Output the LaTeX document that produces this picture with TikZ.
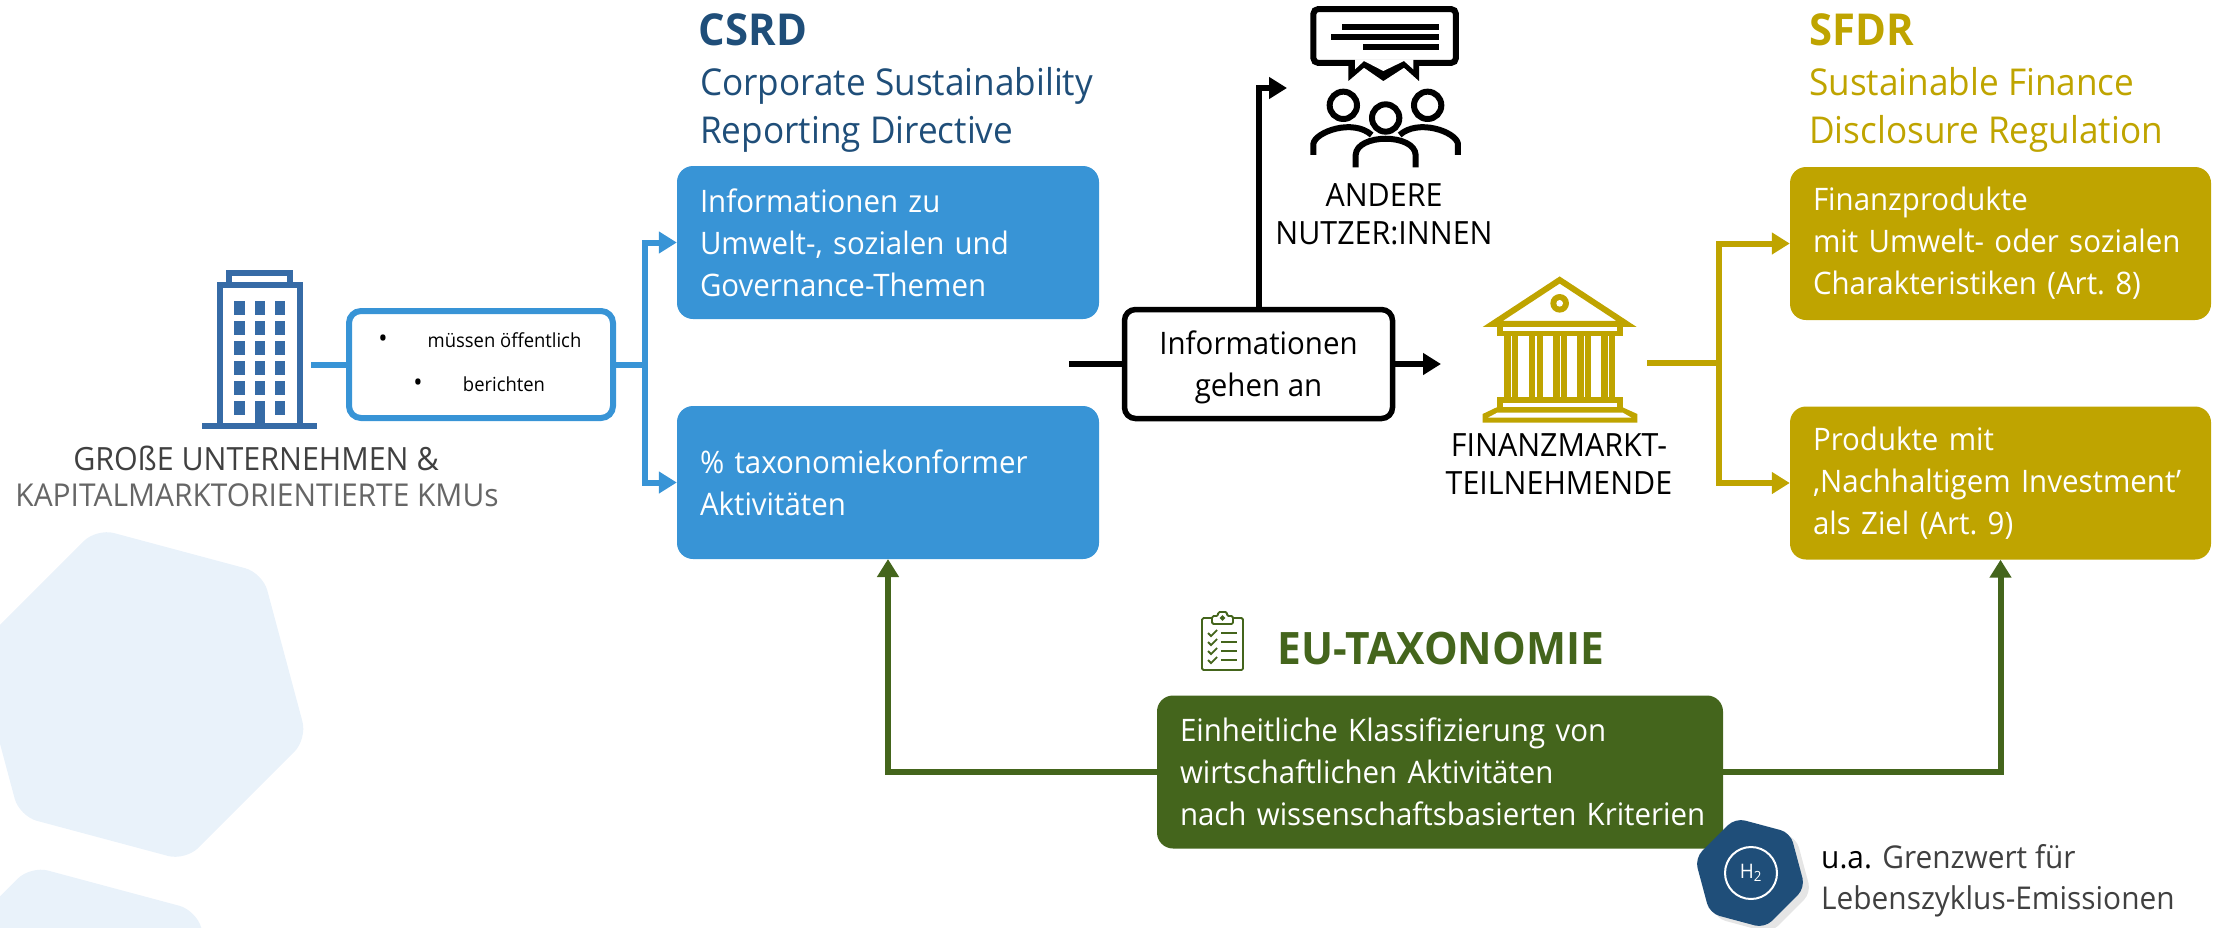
\documentclass[tikz,border=0pt]{standalone}
\usepackage{fontspec}
\setmainfont[FakeStretch=0.95]{Open Sans}
\usetikzlibrary{arrows.meta}
\definecolor{cblue}{HTML}{3894D6}
\definecolor{cnavy}{HTML}{1F4E79}
\definecolor{cgold}{HTML}{BFA400}
\definecolor{cgreen}{HTML}{44651C}
\definecolor{cbuild}{HTML}{366BA6}
\definecolor{chex}{HTML}{E9F2FA}
\definecolor{ctext}{HTML}{404040}
\tikzset{
  x=1pt,y=-1pt,
  infobox/.style={rounded corners=16pt,inner sep=0pt,text=white,align=left,font=\frenchspacing\fontsize{31}{42}\selectfont,minimum height=153pt,minimum width=#1,text width=#1-46pt},
  infobox/.default=422pt,
  lab/.style={inner sep=0pt,align=center,text=black,font=\fontsize{32}{38}\selectfont},
  head/.style={inner sep=0pt,align=left,anchor=north west,font=\fontsize{37}{48}\selectfont},
  headb/.style={inner sep=0pt,anchor=center,font=\fontsize{44}{48}\selectfont\bfseries},
  small/.style={inner sep=0pt,font=\fontsize{19.4}{22}\selectfont,text=black},
  conn/.style={line width=6pt,line join=miter},
  arr/.style={conn,-{Triangle[length=18pt,width=21pt]}},
  icon/.style={line width=6pt},
  hex/.style={rounded corners=#1},
}
\newcommand{\hexpath}[3]{(#1+#3*0.2588*-1,#2-#3*0.9659) -- (#1+#3*0.7071,#2-#3*0.7071) -- (#1+#3*0.9659,#2+#3*0.2588) -- (#1+#3*0.2588,#2+#3*0.9659) -- (#1-#3*0.7071,#2+#3*0.7071) -- (#1-#3*0.9659,#2-#3*0.2588) -- cycle}
\begin{document}
\begin{tikzpicture}
\clip (0,0) rectangle (2224,927);
\useasboundingbox (0,0) rectangle (2224,927);
% background hexagons
\fill[chex,hex=18pt] \hexpath{141}{694.5}{172};
\fill[chex,hex=18pt] \hexpath{75}{1032}{172};

% building
\begin{scope}[cbuild]
\draw[line width=5.5pt] (229,285) -- (229,273) -- (290,273) -- (290,285);
\draw[line width=6pt] (219.5,423) -- (219.5,285) -- (300,285) -- (300,423);
\fill (202,423) rectangle (317,429);
\foreach \xx in {234,254.5,274.5}
  \foreach \yy in {301,321,341,361,381,401}
    \fill (\xx,\yy) rectangle +(10.5,13.5);
\fill (254.5,401) rectangle (265,423);
\end{scope}

% company label
\node[inner sep=0pt,text=ctext,font=\fontsize{32}{38}\selectfont] (lab1) at (256,458) {GROßE UNTERNEHMEN \&};
\node[inner sep=0pt,text=ctext!80,font=\fontsize{31.5}{38}\selectfont] (lab2) at (257,495) {KAPITALMARKTORIENTIERTE KMUs};

% must report box
\node[draw=cblue,line width=6pt,rounded corners=12pt,minimum width=264pt,minimum height=107pt,inner sep=0pt] (must) at (481,364.5) {};
\node[small] (m1) at (504.5,340) {müssen öffentlich};
\node[small] (m2) at (504,384) {berichten};
\node[small,font=\fontsize{26}{22}\selectfont] (b1) at (383,341) {•};
\node[small,font=\fontsize{26}{22}\selectfont] (b2) at (418,385) {•};

% CSRD
\node[headb,text=cnavy] (csrdt) at (753,30) {CSRD};
\node[head,text=cnavy] (csrd) at (700,67) {Corporate Sustainability\\Reporting Directive};
\node[infobox,fill=cblue] (c1) at (888,242.5) {Informationen zu\\Umwelt-, sozialen und\\Governance-Themen};
\node[infobox,fill=cblue] (c2) at (888,482.5) {\% taxonomiekonformer\\Aktivitäten};

% SFDR
\node[headb,text=cgold] (sfdrt) at (1862,30) {SFDR};
\node[head,text=cgold] (sfdr) at (1809,67) {Sustainable Finance\\Disclosure Regulation};
\node[infobox=421pt,fill=cgold] (s1) at (2000.5,243.5) {Finanzprodukte\\mit Umwelt- oder sozialen\\Charakteristiken (Art. 8)};
\node[infobox=421pt,fill=cgold] (s2) at (2000.5,483) {Produkte mit\\‚Nachhaltigem Investment'\\als Ziel (Art. 9)};

% info box
\node[draw=black,fill=white,line width=5.5pt,rounded corners=11pt,minimum width=268pt,minimum height=109pt,inner sep=0pt] (info) at (1258.5,364) {};
\node[inner sep=0pt,align=center,font=\fontsize{31}{42}\selectfont] (infotext) at (1258.5,367) {Informationen\\gehen an};

% other users icon
\begin{scope}[xshift=1250pt,yshift=0pt,x=0.3333pt,y=-0.3333pt,line join=miter]
\draw[icon,rounded corners=5pt] (190,27) rectangle (618,189);
\fill (295,185) -- (295,243) -- (342,203) -- (400,243) -- (462,203) -- (507,243) -- (507,185) -- cycle;
\fill[white] (315,178) -- (315,208) -- (342,183) -- (400,213) -- (462,183) -- (490,208) -- (490,178) -- cycle;
\fill (277,73) rectangle (568,91);
\fill (242,103) rectangle (568,121);
\fill (338,133) rectangle (568,151);
\draw[icon] (280,316) circle [radius=41];
\draw[icon] (533,316) circle [radius=41];
\draw[icon] (407,354) circle [radius=41];
\draw[icon] (190,465) -- (190,432) .. controls (195,395) and (310,355) .. (365,405);
\draw[icon] (624,465) -- (624,432) .. controls (619,395) and (504,355) .. (449,405);
\draw[icon] (317,502) -- (317,465) .. controls (320,400) and (494,400) .. (497,465) -- (497,502);
\end{scope}
\node[lab] (users) at (1384,214) {ANDERE\\NUTZER:INNEN};
\coordinate (usertip) at (1287,88);

% bank icon
\begin{scope}[xshift=1400pt,yshift=-250pt,x=0.3333pt,y=-0.3333pt,cgold]
\draw[line width=6pt,line join=miter] (479,90) -- (278,222) -- (680,222) -- cycle;
\fill (479,160) circle [radius=28];
\fill[white] (479,160) circle [radius=10];
\fill (290,232) rectangle (668,258);
\fill[white] (308,232) rectangle (650,242);
\foreach \xx in {313,386,460,532,604}{
  \fill (\xx,258) rectangle +(42,182);
  \fill[white] (\xx+19,258) rectangle +(5,182);
}
\fill (290,440) rectangle (668,474);
\fill[white] (308,458) rectangle (652,471);
\fill (248,492) -- (290,472) -- (668,472) -- (712,492) -- (712,518) -- (248,518) -- cycle;
\fill[white] (264,503) -- (292,488) -- (668,488) -- (694,503) -- cycle;
\end{scope}
\node[lab] (fin) at (1559,464) {FINANZMARKT-\\TEILNEHMENDE};

% EU-Taxonomie
\node[inner sep=0pt,text=cgreen,font=\fontsize{44.7}{48}\selectfont\bfseries] (eut) at (1441,649) {EU-TAXONOMIE};
\begin{scope}[cgreen,line width=1.8pt]
\draw[rounded corners=1.5pt] (1212,618) -- (1202,618) -- (1202,670) -- (1243,670) -- (1243,618) -- (1233,618);
\draw[rounded corners=1.5pt] (1212,624) -- (1212,616) -- (1218,616) -- (1218,612) -- (1227,612) -- (1227,616) -- (1233,616) -- (1233,624) -- cycle;
\draw (1222.5,618) circle [radius=1.6];
\foreach \yy in {633,642,651,660}{
  \draw (1208,\yy) -- (1211,\yy+3) -- (1217,\yy-3);
  \draw (1221,\yy) -- (1237,\yy);
}
\end{scope}
\node[infobox=566pt,fill=cgreen] (tax) at (1440,772) {\mbox{Einheitliche Klassifizierung von}\\\mbox{wirtschaftlichen Aktivitäten}\\\mbox{nach wissenschaftsbasierten Kriterien}};

% hydrogen hexagon
\fill[black!10,hex=10pt] \hexpath{1756}{878}{57};
\fill[cnavy,hex=10pt] \hexpath{1750}{873}{57};
\node[draw=white,line width=2pt,circle,minimum size=52pt,inner sep=0pt,text=white,font=\fontsize{20}{22}\selectfont] (h2) at (1751,873) {H\textsubscript{2}};
\node[inner sep=0pt,anchor=west,align=left,text=ctext,font=\fontsize{31.4}{41}\selectfont] (note) at (1821,880.5) {\textcolor{black}{u.a.} Grenzwert für\\Lebenszyklus-Emissionen};

% connectors
\coordinate (bldg) at (311,364.5);
\coordinate (bj) at (645,364.5);
\coordinate (blackin) at (1069,364);
\coordinate (bankin) at (1441,364);
\coordinate (gstart) at (1647,363);
\coordinate (gj) at (1719,363);
\coordinate (cin) at (888,559);
\draw[conn,cblue] (bldg) -- (must.west);
\draw[conn,cblue] (must.east) -- (bj);
\draw[arr,cblue] (bj) |- (c1.west);
\draw[arr,cblue] (bj) |- (c2.west);
\draw[conn] (blackin) -- (info.west);
\draw[arr] (info.east) -- (bankin);
\draw[arr] (info.north) |- (usertip);
\draw[conn,cgold] (gstart) -- (gj);
\draw[arr,cgold] (gj) |- (s1.west);
\draw[arr,cgold] (gj) |- (s2.west);
\draw[arr,cgreen] (tax.west) -| (cin);
\draw[arr,cgreen] (tax.east) -| (s2.south);
\end{tikzpicture}
\end{document}
